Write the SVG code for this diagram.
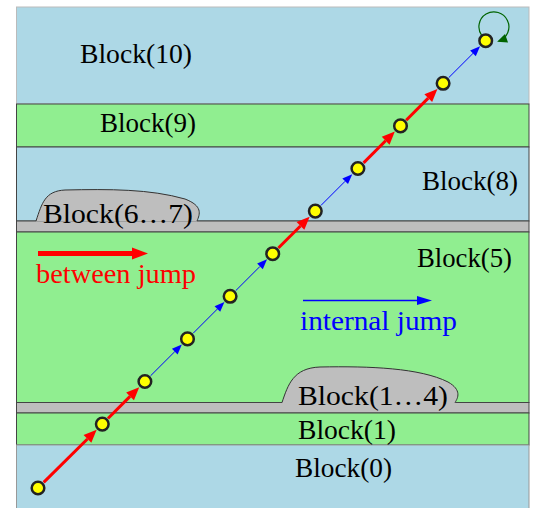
<svg xmlns="http://www.w3.org/2000/svg" width="539" height="508" viewBox="0 0 539 508">
<style>
.blue{fill:#add8e6;stroke:#444;stroke-width:1}
.green{fill:#90ee90;stroke:#444;stroke-width:1}
.gray{fill:#bebebe;stroke:#444;stroke-width:1}
.node{fill:#ffff00;stroke:#222;stroke-width:2.5}
.red{stroke:#ff0000;stroke-width:3;fill:none}
.bl{stroke:#0000ff;stroke-width:1;fill:none}
</style>
<defs>
<marker id="ahr" markerUnits="userSpaceOnUse" orient="auto" refX="0" refY="0" overflow="visible" markerWidth="14" markerHeight="12"><path d="M0,-5.5 L13,0 L0,5.5 z" fill="#ff0000"/></marker>
<marker id="ahb" markerUnits="userSpaceOnUse" orient="auto" refX="0" refY="0" overflow="visible" markerWidth="11" markerHeight="8"><path d="M0,-4 L10,0 L0,4 z" fill="#0000ff"/></marker>
<marker id="ahg" markerUnits="userSpaceOnUse" orient="auto" refX="2" refY="0" overflow="visible" markerWidth="11" markerHeight="8"><path d="M-6,-4.5 L4,0 L-6,4.5 z" fill="#006400"/></marker>
</defs>
<g id="blocks">
<rect id="block10" class="blue" x="16.5" y="7" width="512.5" height="97" style="stroke:#bbb"/>
<rect id="block9" class="green" x="16.5" y="104" width="512.5" height="43"/>
<rect id="block8" class="blue" x="16.5" y="147" width="512.5" height="74"/>
<rect id="band67" class="gray" x="16.5" y="221" width="512.5" height="11"/>
<rect id="block5" class="green" x="16.5" y="232" width="512.5" height="170.5"/>
<rect id="band14" class="gray" x="16.5" y="402.5" width="512.5" height="10.5"/>
<rect id="block1" class="green" x="16.5" y="413" width="512.5" height="32"/>
<rect id="block0" class="blue" x="16.5" y="445" width="512.5" height="70" style="stroke:#999"/>
<g id="bump67">
<path d="M36,221.5 C42,203 45,191 65,190 C110,189 150,189 185,199 C203,206 200,214 197,221.5 Z" fill="#bebebe"/>
<path d="M36,221 C42,203 45,191 65,190 C110,189 150,189 185,199 C203,206 200,214 197,221" fill="none" stroke="#333" stroke-width="1"/>
</g>
<g id="bump14">
<path d="M282,403 C288,385 293,368 320,367 C370,366 420,368 448,382 C462,390 458,398 455,403 Z" fill="#bebebe"/>
<path d="M282,402.5 C288,385 293,368 320,367 C370,366 420,368 448,382 C462,390 458,398 455,402.5" fill="none" stroke="#333" stroke-width="1"/>
</g>
</g>
<g id="labels" font-family="Liberation Serif" font-size="27" fill="#000">
<text x="80" y="63" font-family="Liberation Serif" textLength="112" lengthAdjust="spacingAndGlyphs">Block(10)</text>
<text x="100" y="131.5" font-family="Liberation Serif" textLength="96" lengthAdjust="spacingAndGlyphs">Block(9)</text>
<text x="422" y="190" font-family="Liberation Serif" textLength="96" lengthAdjust="spacingAndGlyphs">Block(8)</text>
<text x="43" y="223" font-family="Liberation Serif" textLength="150" lengthAdjust="spacingAndGlyphs">Block(6…7)</text>
<text x="417" y="266.5" font-family="Liberation Serif" textLength="95" lengthAdjust="spacingAndGlyphs">Block(5)</text>
<text x="298" y="405" font-family="Liberation Serif" textLength="150" lengthAdjust="spacingAndGlyphs">Block(1…4)</text>
<text x="298" y="438.5" font-family="Liberation Serif" textLength="98" lengthAdjust="spacingAndGlyphs">Block(1)</text>
<text x="295" y="476.5" font-family="Liberation Serif" textLength="97" lengthAdjust="spacingAndGlyphs">Block(0)</text>
</g>
<g id="legend" font-family="Liberation Serif" font-size="27">
<line x1="38" y1="253.5" x2="134" y2="253.5" stroke="#ff0000" stroke-width="5"/>
<polygon points="132,247.5 148,253.5 132,259.5" fill="#ff0000"/>
<text x="36" y="283" font-family="Liberation Serif" fill="#ff0000" textLength="160" lengthAdjust="spacingAndGlyphs">between jump</text>
<line x1="303" y1="300.5" x2="418" y2="300.5" stroke="#0000ff" stroke-width="1.5"/>
<polygon points="417,296 432,300.5 417,305" fill="#0000ff"/>
<text x="300" y="330" font-family="Liberation Serif" fill="#0000ff" textLength="157" lengthAdjust="spacingAndGlyphs">internal jump</text>
</g>
<g id="connectors">
<line class="red" x1="43.66" y1="482.34" x2="87.45" y2="438.95" marker-end="url(#ahr)"/>
<line class="red" x1="107.96" y1="418.44" x2="130.05" y2="396.35" marker-end="url(#ahr)"/>
<line class="bl" x1="150.56" y1="375.84" x2="174.77" y2="351.63" marker-end="url(#ahb)"/>
<line class="bl" x1="193.16" y1="333.24" x2="217.37" y2="309.03" marker-end="url(#ahb)"/>
<line class="bl" x1="235.76" y1="290.64" x2="259.97" y2="266.43" marker-end="url(#ahb)"/>
<line class="red" x1="278.36" y1="248.04" x2="300.45" y2="225.95" marker-end="url(#ahr)"/>
<line class="bl" x1="320.96" y1="205.44" x2="345.17" y2="181.23" marker-end="url(#ahb)"/>
<line class="red" x1="363.56" y1="162.84" x2="385.65" y2="140.75" marker-end="url(#ahr)"/>
<line class="red" x1="406.16" y1="120.24" x2="428.25" y2="98.15" marker-end="url(#ahr)"/>
<line class="bl" x1="448.76" y1="77.64" x2="472.97" y2="53.43" marker-end="url(#ahb)"/>
<path d="M482,36 A15,15 0 1 1 499,41" fill="none" stroke="#006400" stroke-width="1.2" marker-end="url(#ahg)"/>
</g>
<g id="nodes">
<circle id="n0" class="node" cx="38" cy="488" r="6.3"/>
<circle id="n1" class="node" cx="102.3" cy="424.1" r="6.3"/>
<circle id="n2" class="node" cx="144.9" cy="381.5" r="6.3"/>
<circle id="n3" class="node" cx="187.5" cy="338.9" r="6.3"/>
<circle id="n4" class="node" cx="230.1" cy="296.3" r="6.3"/>
<circle id="n5" class="node" cx="272.7" cy="253.7" r="6.3"/>
<circle id="n6" class="node" cx="315.3" cy="211.1" r="6.3"/>
<circle id="n7" class="node" cx="357.9" cy="168.5" r="6.3"/>
<circle id="n8" class="node" cx="400.5" cy="125.9" r="6.3"/>
<circle id="n9" class="node" cx="443.1" cy="83.3" r="6.3"/>
<circle id="n10" class="node" cx="485.7" cy="40.7" r="6.3"/>
</g>
</svg>
